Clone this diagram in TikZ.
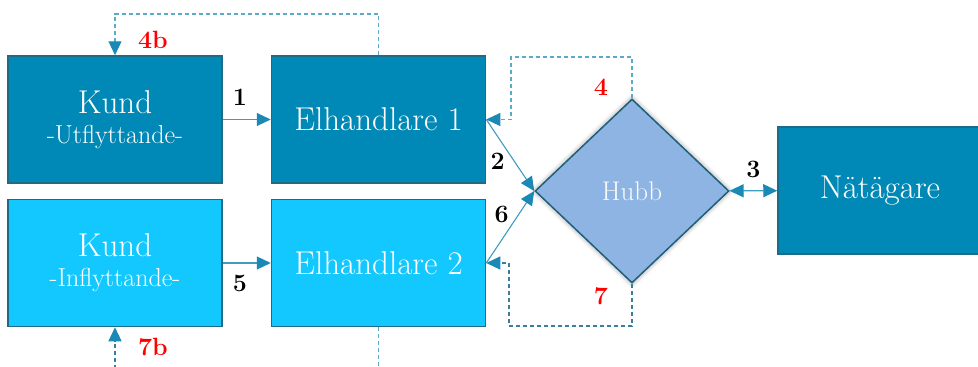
\documentclass[tikz,border=0pt]{standalone}
\usepackage{tikz}
\usetikzlibrary{arrows.meta,shapes.geometric,shadows.blur}
\definecolor{boxdark}{HTML}{0089B6}
\definecolor{boxlight}{HTML}{12C8FF}
\definecolor{boxline}{HTML}{1D6B87}
\definecolor{hubfill}{HTML}{8EB4E3}
\definecolor{hubline}{HTML}{1F5F7A}
\definecolor{arrcol}{HTML}{1A89B5}
\definecolor{linecol}{HTML}{3D9CC0}
\definecolor{dashlight}{HTML}{5AAAC8}
\definecolor{dashdark}{HTML}{3A7E9C}
\newcommand{\bigtxt}{\fontsize{33}{34}\selectfont}
\newcommand{\subtxt}{\fontsize{26}{27}\selectfont}
\newcommand{\labtxt}{\fontsize{25}{26}\selectfont\bfseries}

\begin{document}
\begin{tikzpicture}[x=1pt,y=-1pt,
  box/.style={draw=boxline,line width=1.5pt,text=white,align=center,font=\bigtxt,
    minimum width=214pt,minimum height=127pt,inner sep=0pt},
  dark/.style={box,fill=boxdark},
  light/.style={box,fill=boxlight},
  hub/.style={diamond,draw=hubline,line width=1.5pt,fill=hubfill,text=white!96!gray,
    minimum width=194pt,minimum height=184pt,inner sep=0pt,
    blur shadow={shadow xshift=0pt,shadow yshift=0pt,shadow blur radius=5pt,shadow opacity=45}},
  tip/.style={-{Triangle[length=14pt,width=13pt,color=arrcol]}},
  arr/.style={draw=linecol,line width=1.1pt,tip},
  dashline/.style={line width=1.1pt,dash pattern=on 4pt off 3pt},
  lbl/.style={font=\labtxt,inner sep=2pt},
  redlbl/.style={lbl,text=red}]
  \useasboundingbox (0,0) rectangle (978,367);
  \node [dark] (KU) at (115,119.5) {Kund\\[-4pt]{\subtxt -Utflyttande-}};
  \node [dark] (EA) at (378.5,119.5) {Elhandlare 1};
  \node [light] (KI) at (115,263) {Kund\\[-4pt]{\subtxt -Inflyttande-}};
  \node [light] (EB) at (378.5,263) {Elhandlare 2};
  \node [hub] (HU) at (632,191) {\fontsize{27}{28}\selectfont Hubb};
  \node [dark,minimum width=204pt] (NA) at (880,190.5) {N\"at\"agare};
  \coordinate (C4) at (511,57);
  \coordinate (C7) at (509,326);
  \coordinate (C4b) at (115,14);
  \coordinate (C7b) at (115,369);
  \draw [arr] (KU) -- node [lbl,above=11pt,pos=0.36] {1} (EA);
  \draw [arr] (KI) -- node [lbl,below=10pt,pos=0.36] {5} (EB);
  \draw [arr] (EA.east) -- node [lbl,below left,pos=0.44] {2} (HU.west);
  \draw [arr] (EB.east) -- node [lbl,above left,pos=0.52] {6} (HU.west);
  \draw [arr,{Triangle[length=14pt,width=13pt,color=arrcol]}-{Triangle[length=14pt,width=13pt,color=arrcol]}] (HU) -- node [lbl,above=10pt] {3} (NA);
  \draw [arr,dashline,draw=dashlight] (HU.north) |- (C4) -- (C4 |- EA.east) -- (EA.east);
  \draw [arr,dashline,draw=dashdark] (HU.south) |- (C7) -- (C7 |- EB.east) -- (EB.east);
  \draw [arr,dashline,draw=dashlight] (EA.north) |- (C4b) -- (KU.north);
  \draw [arr,dashline,draw=dashdark] (C7b) -- (KI.south);
  \draw [dashline,draw=dashlight] (EB.south) -- (EB.south |- C7b);
  \node [redlbl] (L4) at (601,87.5) {4};
  \node [redlbl] (L7) at (601,296) {7};
  \node [redlbl] (L4b) at (153,40) {4b};
  \node [redlbl] (L7b) at (153,346.5) {7b};
\end{tikzpicture}
\end{document}
